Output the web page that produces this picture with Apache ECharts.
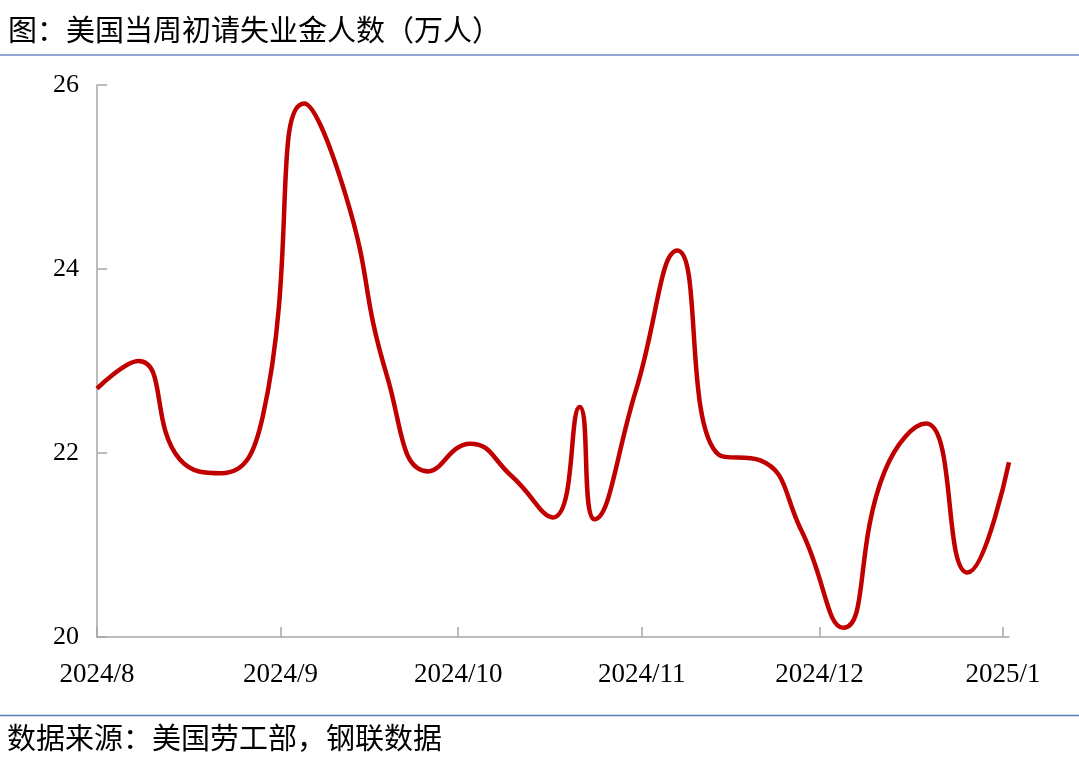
<!DOCTYPE html>
<html><head><meta charset="utf-8">
<script src="https://cdn.jsdelivr.net/npm/echarts@6/dist/echarts.min.js"></script>
<style>html,body{margin:0;padding:0;background:#fff}#c{width:1079px;height:772px}</style>
</head><body><div id="c"></div>
<script>
const titleText = '图：美国当周初请失业金人数（万人）';
const sourceText = '数据来源：美国劳工部，钢联数据';
const dates = ['2024-08-01','2024-08-08','2024-08-15','2024-08-22','2024-08-29','2024-09-05','2024-09-12','2024-09-19','2024-09-26','2024-10-03','2024-10-10','2024-10-17','2024-10-21 12','2024-10-24','2024-10-31','2024-11-07','2024-11-14','2024-11-21','2024-11-28','2024-12-05','2024-12-12','2024-12-19','2024-12-26','2025-01-02'];
const values = [22.70,23.00,21.93,21.78,22.40,25.80,24.80,22.83,21.80,22.10,21.75,21.30,22.50,21.28,22.68,24.20,21.98,21.92,21.15,20.10,21.80,22.32,20.70,21.90];
const monthTicks = ['2024-08-01','2024-09-01','2024-10-01','2024-11-01','2024-12-01','2025-01-01'];
const monthLabels = ['2024/8','2024/9','2024/10','2024/11','2024/12','2025/1'];
const yTicks = [20,22,24,26];

function ts(s){
  const parts = s.split(' ');
  const [y,m,d] = parts[0].split('-').map(Number);
  const h = parts[1] ? Number(parts[1]) : 0;
  return new Date(y, m-1, d, h).getTime();
}
const tickTs = monthTicks.map(ts);
const labelMap = {};
tickTs.forEach((t,i)=>{ labelMap[t] = monthLabels[i]; });
const seriesData = dates.map((d,i)=>[ts(d), values[i]]);

const chart = echarts.init(document.getElementById('c'), null, {renderer:'canvas'});
const axisColor = '#A6A6A6';
const serif = '"Liberation Serif","Times New Roman",serif';
const cjk = '"Noto Sans CJK SC","Noto Sans",sans-serif';
chart.setOption({
  backgroundColor:'#fff',
  animation:false,
  grid:{left:97, right:70, top:85, bottom:135, containLabel:false},
  graphic:[
    {type:'text', left:8, top:15, style:{text:titleText, font:'29px '+cjk, fill:'#000'}},
    {type:'line', shape:{x1:0,y1:55,x2:1079,y2:55}, style:{stroke:'#8FA8CF', lineWidth:2}},
    {type:'line', shape:{x1:0,y1:715.5,x2:1079,y2:715.5}, style:{stroke:'#5A7EB9', lineWidth:1.5}},
    {type:'text', left:7, top:723, style:{text:sourceText, font:'29px '+cjk, fill:'#000'}}
  ],
  xAxis:{
    type:'value',
    min:ts(dates[0]), max:ts(dates[dates.length-1]),
    axisLine:{show:true, lineStyle:{color:axisColor, width:1.5}},
    axisTick:{show:true, inside:true, length:10, customValues:tickTs, lineStyle:{color:axisColor, width:1.5}},
    axisLabel:{show:true, customValues:tickTs, margin:24, color:'#000', fontFamily:serif, fontSize:27,
      formatter:function(v){ return labelMap[v] || ''; }},
    splitLine:{show:false}
  },
  yAxis:{
    type:'value', min:yTicks[0], max:yTicks[yTicks.length-1], interval:2,
    axisLine:{show:true, lineStyle:{color:axisColor, width:1.5}},
    axisTick:{show:true, inside:true, length:10, lineStyle:{color:axisColor, width:1.5}},
    axisLabel:{show:true, margin:18, color:'#000', fontFamily:serif, fontSize:26},
    splitLine:{show:false}
  },
  series:[{
    type:'line', data:seriesData, smooth:0.5, showSymbol:false, symbol:'none',
    lineStyle:{color:'#C00000', width:4.5}
  }]
});
</script></body></html>
